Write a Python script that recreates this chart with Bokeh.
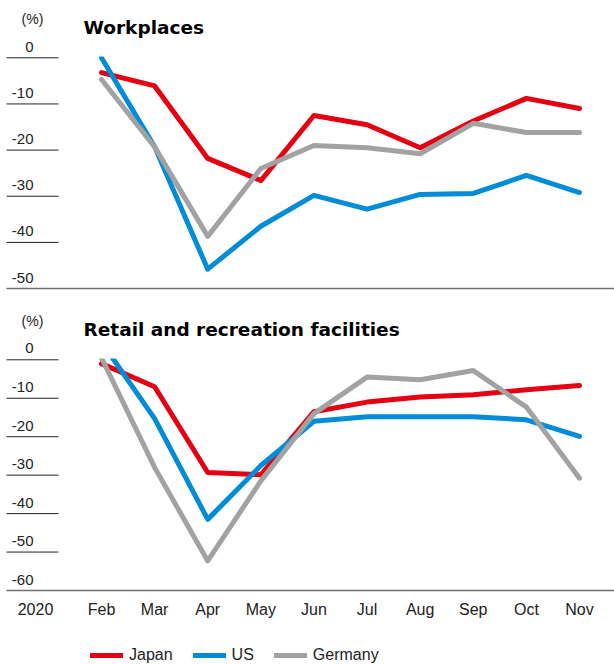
from bokeh.plotting import figure
from bokeh.models import Range1d, Label, Legend, LegendItem, FixedTicker, ColumnDataSource
from bokeh.layouts import column
from bokeh.embed import file_html
from bokeh.resources import INLINE

# ---------------- data ----------------
months = ["Feb", "Mar", "Apr", "May", "Jun", "Jul", "Aug", "Sep", "Oct", "Nov"]
year_label = "2020"
series_names = ["Japan", "US", "Germany"]
titles = ["Workplaces", "Retail and recreation facilities"]
unit_label = "(%)"

work_japan = [-3.2, -6.1, -21.8, -26.6, -12.5, -14.5, -19.5, -13.7, -8.8, -11.0]
work_us = [0.0, -19.3, -45.8, -36.5, -29.8, -32.8, -29.6, -29.4, -25.5, -29.2]
work_germany = [-4.7, -19.3, -38.7, -24.0, -19.0, -19.5, -20.8, -14.2, -16.2, -16.2]

retail_japan = [-1.0, -7.0, -29.3, -29.9, -13.5, -11.0, -9.7, -9.1, -7.8, -6.7]
retail_us = [4.6, -15.3, -41.5, -27.5, -16.0, -14.8, -14.8, -14.8, -15.6, -19.9]
retail_germany = [0.5, -28.0, -52.3, -31.5, -14.0, -4.5, -5.2, -2.8, -12.3, -30.8]

work_ticks = [0, -10, -20, -30, -40, -50]
retail_ticks = [0, -10, -20, -30, -40, -50, -60]

# ---------------- styles / layout ----------------
colors = {"Japan": "#E50012", "US": "#008CD6", "Germany": "#A2A2A2"}
LW = 5
FONT = "Liberation Sans"
TITLE_FONT = "DejaVu Sans"
TXT = "#222222"
W = 614

X_START, X_END = -1.902, 9.659
YEAR_POS = -1.243
GRID_START = -1.789
GRID_END = -0.81
LABEL_X = -1.28
TITLE_X = -0.339
PCT_X = -1.30
LABEL_LIFT_PX = 11  # tick label centre above its gridline

xs = list(range(len(months)))


def base_fig(height, y_range, top=0, bottom=0, xloc=None):
    p = figure(width=W, height=height, output_backend="svg", toolbar_location=None,
               x_range=Range1d(X_START, X_END), y_range=y_range,
               x_axis_location=xloc, y_axis_location=None,
               min_border_top=top, min_border_bottom=bottom,
               min_border_left=0, min_border_right=0)
    p.outline_line_color = None
    p.grid.visible = False
    p.background_fill_color = None
    p.border_fill_color = None
    return p


def header(height, pct_y, title, top_tick, tick_y):
    # y in pixels above the chart's top edge
    h = base_fig(height, Range1d(0, height))
    h.add_layout(Label(x=PCT_X, y=pct_y, text=unit_label,
                       text_align="center", text_baseline="middle",
                       text_font=FONT, text_font_size="14px", text_color=TXT))
    h.add_layout(Label(x=TITLE_X, y=29, text=title,
                       text_align="left", text_baseline="alphabetic",
                       text_font=TITLE_FONT, text_font_style="bold",
                       text_font_size="18.5px", text_color="#000000"))
    h.add_layout(Label(x=LABEL_X, y=tick_y, text=str(top_tick),
                       text_align="right", text_baseline="middle",
                       text_font=FONT, text_font_size="15px", text_color=TXT))
    return h


def chart_decor(p, ticks, px_per_unit):
    grid = ticks[:-1]
    p.segment(x0=[GRID_START] * len(grid), x1=[GRID_END] * len(grid),
              y0=grid, y1=grid, line_color="#222222", line_width=1)
    p.segment(x0=[GRID_START], x1=[X_END], y0=[ticks[-1]], y1=[ticks[-1]],
              line_color="#707070", line_width=1.6)
    lift = LABEL_LIFT_PX / px_per_unit
    for t in ticks[1:]:
        p.add_layout(Label(x=LABEL_X, y=t + lift, text=str(t),
                           text_align="right", text_baseline="middle",
                           text_font=FONT, text_font_size="15px", text_color=TXT))


def add_lines(p, data):
    for name, vals in zip(series_names, data):
        src = ColumnDataSource(dict(x=xs, y=vals))
        p.line("x", "y", source=src, line_color=colors[name], line_width=LW,
               line_join="round", line_cap="round")


# ---------------- top chart ----------------
h1 = header(56, 38, titles[0], work_ticks[0], 10)
p1 = base_fig(244, Range1d(-51.29, 0.28), top=0, bottom=6)
chart_decor(p1, work_ticks, 238 / 51.57)
add_lines(p1, [work_japan, work_us, work_germany])

# ---------------- bottom chart ----------------
h2 = header(58, 38, titles[1], retail_ticks[0], 10.3)
p2 = base_fig(272, Range1d(-60.52, 0.34), top=0, bottom=38, xloc="below")
chart_decor(p2, retail_ticks, 234 / 60.86)
add_lines(p2, [retail_japan, retail_us, retail_germany])

ax = p2.xaxis[0]
ax.ticker = FixedTicker(ticks=[YEAR_POS] + xs)
overrides = {YEAR_POS: year_label}
for i, m in enumerate(months):
    overrides[i] = m
ax.major_label_overrides = overrides
ax.axis_line_color = None
ax.major_tick_line_color = None
ax.minor_tick_line_color = None
ax.major_tick_out = 0
ax.major_tick_in = 0
ax.major_label_standoff = 8
ax.major_label_text_font = FONT
ax.major_label_text_font_size = "16px"
ax.major_label_text_color = TXT

# ---------------- legend (footer) ----------------
# swatch renderers: their lines lie outside the footer's view
f = base_fig(34, Range1d(0, 1))
items = []
for name in series_names:
    r = f.line(x=[0, 1], y=[-5, -5], line_color=colors[name], line_width=LW, line_cap="round")
    items.append(LegendItem(label=name, renderers=[r]))
legend = Legend(items=items, orientation="horizontal", location=(90, 0),
                glyph_width=33, glyph_height=18, label_height=18, label_standoff=6,
                spacing=20, padding=0, margin=0, border_line_color=None,
                background_fill_alpha=0, label_text_font=FONT,
                label_text_font_size="16px", label_text_color=TXT)
f.add_layout(legend)

layout = column(h1, p1, h2, p2, f, spacing=0)
open("out.html", "w").write(file_html(layout, INLINE))
